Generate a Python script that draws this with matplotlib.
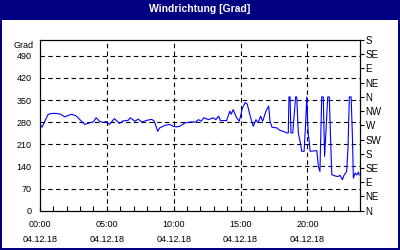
import matplotlib
matplotlib.use("Agg")
import matplotlib.pyplot as plt
from matplotlib.patches import Rectangle
from matplotlib.ticker import MultipleLocator

title = "Windrichtung [Grad]"
times = ["00:03", "00:09", "00:36", "00:45", "01:06", "01:30", "01:51", "02:21", "02:42", "03:06",
         "03:21", "03:42", "04:00", "04:12", "04:27", "04:42", "04:57", "05:12", "05:33", "05:42",
         "05:57", "06:12", "06:36", "06:45", "07:06", "07:21", "07:36", "08:00", "08:21", "08:33",
         "08:48", "08:57", "09:21", "09:42", "09:57", "10:12", "10:27", "10:51", "11:21", "11:36",
         "11:51", "12:03", "12:15", "12:36", "12:57", "13:09", "13:21", "13:30", "13:57", "14:12",
         "14:18", "14:27", "14:42", "14:54", "15:09", "15:21", "15:30", "15:45", "15:57", "16:09",
         "16:18", "16:30", "16:39", "16:54", "17:06", "17:12", "17:21", "17:42", "17:57", "18:12",
         "18:27", "18:34", "18:37", "18:42", "18:46", "18:54", "19:07", "19:12", "19:19", "19:30",
         "19:34", "19:45", "19:52", "19:57", "20:01", "20:04", "20:08", "20:12", "20:42", "20:49",
         "20:56", "21:04", "21:11", "21:17", "21:23", "21:31", "21:38", "21:44", "21:49", "22:04",
         "22:17", "22:26", "22:37", "22:44", "22:56", "23:02", "23:08", "23:16", "23:22", "23:26",
         "23:34", "23:41", "23:49", "23:52"]
direction = [270, 264, 304, 307, 308, 306, 297, 305, 300, 283,
             273, 278, 281, 294, 283, 279, 282, 273, 291, 286,
             276, 284, 286, 294, 283, 290, 280, 286, 289, 283,
             251, 262, 270, 273, 267, 265, 267, 278, 281, 280,
             288, 283, 294, 288, 294, 288, 299, 285, 285, 315,
             305, 320, 294, 283, 326, 342, 337, 294, 267, 288,
             278, 299, 283, 315, 331, 283, 264, 262, 254, 251,
             246, 246, 360, 360, 246, 246, 360, 360, 246, 209,
             188, 188, 278, 360, 278, 241, 220, 188, 190, 140,
             124, 360, 360, 172, 250, 360, 360, 225, 114, 110,
             108, 112, 98, 112, 124, 200, 360, 360, 230, 103,
             119, 113, 122, 113]
x_ticks_h = [0, 5, 10, 15, 20]
x_labels = ["00:00\n04.12.18", "05:00\n04.12.18", "10:00\n04.12.18", "15:00\n04.12.18", "20:00\n04.12.18"]
left_ticks = [0, 70, 140, 210, 280, 350, 420, 490]
right_labels = ["N", "NE", "E", "SE", "S", "SW", "W", "NW", "N", "NE", "E", "SE", "S"]

hours = [int(t[:2]) + int(t[3:]) / 60 for t in times]

plt.rcParams['font.family'] = ['Liberation Sans', 'DejaVu Sans']
navy = "#000080"
fig = plt.figure(figsize=(4, 2.5), dpi=100, facecolor=navy)
fig.patches.append(Rectangle((2/400, 2/250), 396/400, 228/250, transform=fig.transFigure,
                             facecolor="white", edgecolor="none", zorder=-5))
fig.text(0.5, 1 - 9/250, title, color="white", fontsize=7.5, fontweight="bold",
         ha="center", va="center")

ax = fig.add_axes([40/400, 1 - 210.7/250, 320/400, 170.7/250])
ax.set_zorder(2)
ax.set_facecolor("white")
ax.plot(hours, direction, color="#0000ff", lw=0.8, zorder=3)
ax.set_xlim(0, 23.93)
ax.set_ylim(0, 540)

ax.set_yticks(left_ticks)
ax.set_yticklabels([str(v) for v in left_ticks], fontsize=6.5)
ax.tick_params(axis="y", length=0, pad=6)
ax.set_xticks(x_ticks_h)
ax.set_xticklabels(x_labels, fontsize=6.5, linespacing=1.85)
ax.xaxis.set_minor_locator(MultipleLocator(1))
ax.tick_params(axis="x", which="both", direction="in", length=3.5, width=0.8, pad=7)

for v in left_ticks[1:]:
    ax.axhline(v, color="black", lw=0.8, ls=(0, (4, 3)), zorder=1)
for h in x_ticks_h[1:]:
    ax.axvline(h, color="black", lw=0.8, ls=(0, (4, 3)), zorder=1)

for s in ax.spines.values():
    s.set_linewidth(0.8)

ax.text(-0.02, 1 - 5/170.7, "Grad", transform=ax.transAxes, ha="right", va="center", fontsize=6.5)

ax2 = ax.twinx()
ax2.set_zorder(3)
ax2.patch.set_visible(False)
ax2.set_ylim(0, 540)
ax2.set_yticks(range(0, 541, 45))
ax2.set_yticklabels(right_labels, fontsize=7)
ax2.tick_params(axis="y", direction="out", length=3, width=0.8, pad=1)

fig.savefig("out.png", dpi=100, facecolor=navy)
